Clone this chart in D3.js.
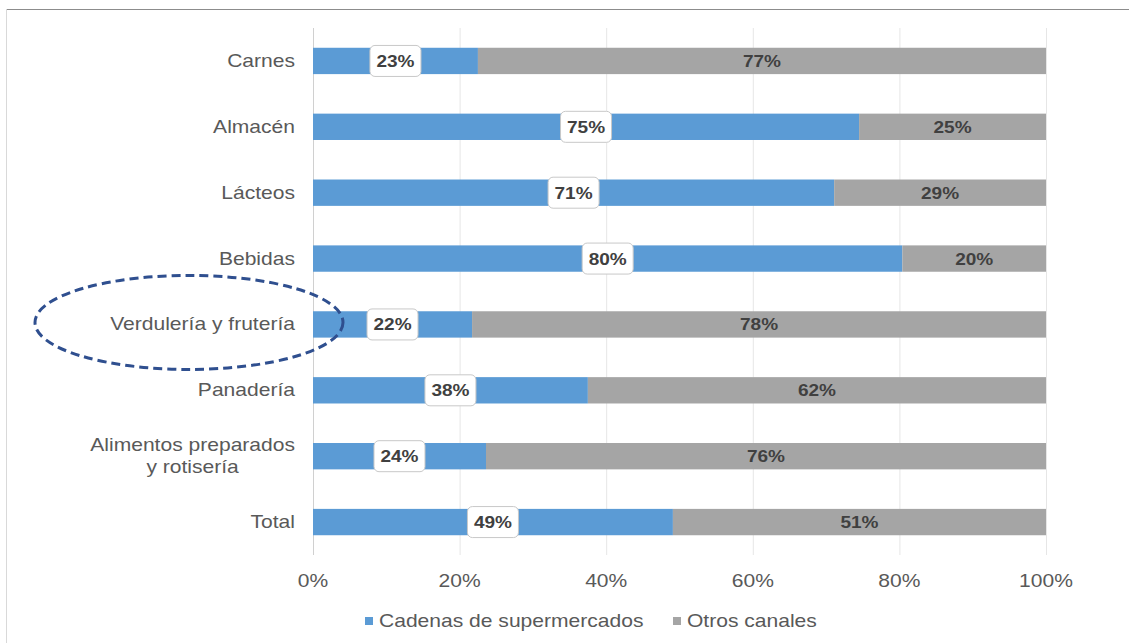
<!DOCTYPE html>
<html>
<head>
<meta charset="utf-8">
<script src="https://cdn.jsdelivr.net/npm/d3@7"></script>
<style>
  body { margin: 0; background: #fff; }
  text { font-family: "Liberation Sans", Arial, sans-serif; }
</style>
</head>
<body>
<div id="svgContainer"></div>
<script>
var width = 1129,
    height = 643;

// data
var categories = ["Carnes", "Almacén", "Lácteos", "Bebidas", "Verdulería y frutería",
                  "Panadería", "Alimentos preparados\ny rotisería", "Total"];
var supermercados = [22.5, 74.5, 71.1, 80.4, 21.7, 37.5, 23.6, 49.1];
var otros = supermercados.map(v => 100 - v);
var supLabels = [23, 75, 71, 80, 22, 38, 24, 49];
var otrosLabels = [77, 25, 29, 20, 78, 62, 76, 51];
var xTicks = [0, 20, 40, 60, 80, 100];
var seriesNames = ["Cadenas de supermercados", "Otros canales"];
var seriesColors = ["#5b9bd5", "#a5a5a5"];
var highlighted = "Verdulería y frutería";

var margin = {top: 28, right: 83, bottom: 88, left: 313};
var sx = 1.17; // the source picture is slightly stretched sideways

var svg = d3.select("#svgContainer").append("svg")
    .attr("width", width)
    .attr("height", height)
    .style("display", "block");

// stretched text helper
stext = (sel, xf, yf) => sel
    .attr("transform", (d, i) => "translate(" + xf(d, i) + "," + yf(d, i) + ") scale(" + sx + ",1)");

// frame
svg.append("line")
    .attr("x1", 6).attr("x2", width).attr("y1", 9.5).attr("y2", 9.5)
    .attr("stroke", "#8c8c8c").attr("stroke-width", 1.2);
svg.append("line")
    .attr("x1", 6.5).attr("x2", 6.5).attr("y1", 9).attr("y2", height)
    .attr("stroke", "#d9d9d9").attr("stroke-width", 1);

var x = d3.scaleLinear()
    .domain([0, 100])
    .range([margin.left, width - margin.right]);

var y = d3.scaleBand()
    .domain(categories)
    .range([margin.top, height - margin.bottom])
    .paddingInner(0.6)
    .paddingOuter(0.3);

// gridlines
svg.append("g")
    .selectAll("line")
    .data(xTicks)
    .enter().append("line")
    .attr("x1", d => x(d) + 0.5).attr("x2", d => x(d) + 0.5)
    .attr("y1", margin.top).attr("y2", height - margin.bottom)
    .attr("stroke", d => d === 0 ? "#d0d0d0" : "#e6e6e6")
    .attr("stroke-width", 1);

// x tick labels
svg.append("g")
    .selectAll("text")
    .data(xTicks)
    .enter().append("text")
    .call(stext, d => x(d), () => 587)
    .attr("text-anchor", "middle")
    .attr("font-size", 18)
    .attr("fill", "#595959")
    .text(d => d + "%");

// category labels
var catLabels = svg.append("g")
    .selectAll("g")
    .data(categories)
    .enter().append("g")
    .attr("transform", d => "translate(295," + (y(d) + y.bandwidth() / 2) + ") scale(" + sx + ",1)");

catLabels.each(function(d) {
    var lines = d.split("\n");
    var g = d3.select(this);
    if (lines.length === 1) {
        g.append("text")
            .attr("text-anchor", "end")
            .attr("y", 6)
            .attr("font-size", 18)
            .attr("fill", "#595959")
            .text(d);
    } else {
        var first = g.append("text")
            .attr("text-anchor", "end")
            .attr("y", 6 - 11)
            .attr("font-size", 18)
            .attr("fill", "#595959")
            .text(lines[0]);
        var w0 = first.node().getComputedTextLength();
        lines.slice(1).forEach((ln, i) => {
            g.append("text")
                .attr("text-anchor", "middle")
                .attr("x", -w0 / 2)
                .attr("y", 6 + 11 + i * 22)
                .attr("font-size", 18)
                .attr("fill", "#595959")
                .text(ln);
        });
    }
});

// bars
var rows = categories.map((c, i) => ({cat: c, a: supermercados[i], b: otros[i],
                                      la: supLabels[i], lb: otrosLabels[i]}));

var bars = svg.append("g");
bars.selectAll("rect.sup")
    .data(rows)
    .enter().append("rect")
    .attr("class", "sup")
    .attr("x", x(0))
    .attr("y", d => y(d.cat))
    .attr("width", d => x(d.a) - x(0))
    .attr("height", y.bandwidth())
    .attr("fill", seriesColors[0]);

bars.selectAll("rect.otr")
    .data(rows)
    .enter().append("rect")
    .attr("class", "otr")
    .attr("x", d => x(d.a))
    .attr("y", d => y(d.cat))
    .attr("width", d => x(100) - x(d.a))
    .attr("height", y.bandwidth())
    .attr("fill", seriesColors[1]);

// labels for blue segments (boxed)
var boxW = 51, boxH = 31;
var supLab = svg.append("g")
    .selectAll("g")
    .data(rows)
    .enter().append("g")
    .attr("transform", d => "translate(" + x(d.a / 2) + "," + (y(d.cat) + y.bandwidth() / 2) + ")");

supLab.append("rect")
    .attr("x", -boxW / 2).attr("y", -boxH / 2)
    .attr("width", boxW).attr("height", boxH)
    .attr("rx", 5)
    .attr("fill", "#fff")
    .attr("stroke", "#c8c8c8")
    .attr("stroke-width", 1);

supLab.append("text")
    .attr("text-anchor", "middle")
    .attr("transform", "translate(0,6) scale(1.12,1)")
    .attr("font-size", 17)
    .attr("font-weight", "bold")
    .attr("fill", "#404040")
    .text(d => d.la + "%");

// labels for gray segments
svg.append("g")
    .selectAll("text")
    .data(rows)
    .enter().append("text")
    .attr("transform", d => "translate(" + x(d.a + d.b / 2) + "," + (y(d.cat) + y.bandwidth() / 2 + 6) + ") scale(1.12,1)")
    .attr("text-anchor", "middle")
    .attr("font-size", 17)
    .attr("font-weight", "bold")
    .attr("fill", "#404040")
    .text(d => d.lb + "%");

// legend
var legendX = [365, 673];
var legend = svg.append("g")
    .selectAll("g")
    .data(seriesNames)
    .enter().append("g")
    .attr("transform", (d, i) => "translate(" + legendX[i] + ",621)");

legend.append("rect")
    .attr("x", 0).attr("y", -4)
    .attr("width", 8).attr("height", 8)
    .attr("fill", (d, i) => seriesColors[i]);

legend.append("text")
    .attr("transform", "translate(14,6) scale(" + sx + ",1)")
    .attr("font-size", 18)
    .attr("fill", "#595959")
    .text(d => d);

// highlight ellipse around a category
svg.append("ellipse")
    .attr("cx", 189)
    .attr("cy", y(highlighted) + y.bandwidth() / 2 - 2)
    .attr("rx", 154)
    .attr("ry", 47)
    .attr("fill", "none")
    .attr("stroke", "#2f4f8f")
    .attr("stroke-width", 3)
    .attr("stroke-dasharray", "9,5");
</script>
</body>
</html>
